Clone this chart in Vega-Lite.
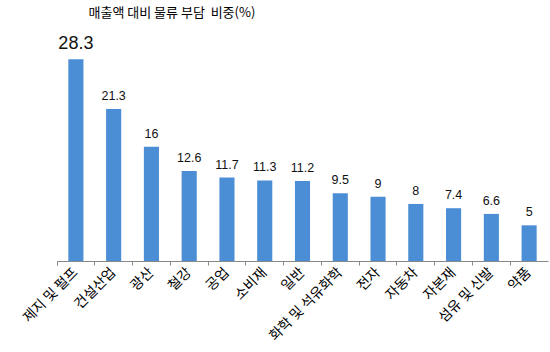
{
  "$schema": "https://vega.github.io/schema/vega-lite/v6.json",
  "autosize": "none",
  "width": 491,
  "height": 214,
  "padding": {"left": 57, "top": 47, "right": 2, "bottom": 91},
  "background": "white",
  "config": {"view": {"stroke": null}},
  "title": {
    "text": "매출액 대비 물류 부담\u00a0 비중(%)",
    "anchor": "start",
    "dx": 68,
    "offset": 9,
    "baseline": "middle",
    "fontSize": 13,
    "fontWeight": "normal",
    "font": "Noto Sans CJK KR",
    "color": "#000000"
  },
  "data": {
    "values": [
      {"category": "제지 및 펄프", "value": 28.3},
      {"category": "건설산업", "value": 21.3},
      {"category": "광산", "value": 16},
      {"category": "철강", "value": 12.6},
      {"category": "공업", "value": 11.7},
      {"category": "소비재", "value": 11.3},
      {"category": "일반", "value": 11.2},
      {"category": "화학 및 석유화학", "value": 9.5},
      {"category": "전자", "value": 9},
      {"category": "자동차", "value": 8},
      {"category": "자본재", "value": 7.4},
      {"category": "섬유 및 신발", "value": 6.6},
      {"category": "약품", "value": 5}
    ]
  },
  "encoding": {
    "x": {
      "field": "category",
      "type": "nominal",
      "sort": null,
      "scale": {"paddingInner": 0, "paddingOuter": 0},
      "axis": {
        "title": null,
        "bandPosition": 0,
        "tickExtra": true,
        "labelAngle": -45,
        "labelAlign": "right",
        "labelBaseline": "middle",
        "labelPadding": 5,
        "labelFont": "Noto Sans CJK KR",
        "labelFontSize": 14,
        "labelColor": "#000000",
        "tickColor": "#888888",
        "domainColor": "#888888",
        "tickSize": 4,
        "labelOverlap": false
      }
    },
    "y": {
      "field": "value",
      "type": "quantitative",
      "scale": {"domain": [0, 30], "nice": false},
      "axis": null
    }
  },
  "layer": [
    {
      "mark": {"type": "bar", "color": "#4b8ed6", "width": {"band": 0.4}}
    },
    {
      "mark": {"type": "text", "baseline": "bottom", "dy": -6, "font": "Liberation Sans", "color": "#111111"},
      "encoding": {
        "text": {"field": "value", "type": "quantitative"},
        "size": {"condition": {"test": "datum.value > 28", "value": 18}, "value": 12.5}
      }
    }
  ]
}
